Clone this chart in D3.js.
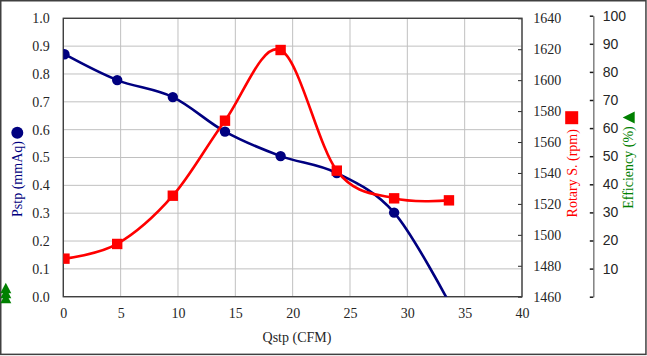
<!DOCTYPE html>
<html>
<head>
<meta charset="utf-8">
<script src="https://cdn.jsdelivr.net/npm/d3@7"></script>
<style>
  html, body { margin: 0; padding: 0; background: #fff; }
  svg { display: block; font-family: "Liberation Serif", "DejaVu Serif", serif; }
</style>
</head>
<body>
<svg id="chart" width="647" height="356"></svg>
<script>
// ---- data ----
const qstp = [0.1, 4.7, 9.55, 14.1, 18.95, 23.85, 28.85, 33.63];
const pstp = [0.871, 0.778, 0.717, 0.593, 0.505, 0.444, 0.302, -0.02];
const rotary = [1484.6, 1494.1, 1525.3, 1573.8, 1619.5, 1541.5, 1523.6, 1522.3];
const xTicks = [0, 5, 10, 15, 20, 25, 30, 35, 40];
const pTicks = [0, 0.1, 0.2, 0.3, 0.4, 0.5, 0.6, 0.7, 0.8, 0.9, 1.0];
const rTicks = [1460, 1480, 1500, 1520, 1540, 1560, 1580, 1600, 1620, 1640];
const eTicks = [0, 10, 20, 30, 40, 50, 60, 70, 80, 90, 100];
const labels = { x: "Qstp (CFM)", p: "Pstp (mmAq)", r: "Rotary S. (rpm)", e: "Efficiency (%)" };

// ---- layout ----
const L = 63.3, R = 522, T = 18.3, B = 296.7;
const svg = d3.select("#chart");
const x = d3.scaleLinear().domain([0, 40]).range([L, R]);
const yP = d3.scaleLinear().domain([0, 1]).range([B, T]);
const yR = d3.scaleLinear().domain([1460, 1640]).range([B, T]);
const yE = d3.scaleLinear().domain([0, 100]).range([B, 15.7]);

const NAVY = "#000080", RED = "#ff0000", GREEN = "#008000";
const FS = "14px";

// outer border
svg.append("rect").attr("x", 0.75).attr("y", 0.75).attr("width", 645.2).attr("height", 353.6)
  .attr("fill", "none").attr("stroke", "#404040").attr("stroke-width", 1.5);

// gridlines
const grid = svg.append("g").attr("stroke", "#c0c0c0").attr("stroke-width", 1);
grid.selectAll("line.v").data(xTicks).join("line")
  .attr("x1", d => x(d)).attr("x2", d => x(d)).attr("y1", T).attr("y2", B);
grid.selectAll("line.h").data(pTicks).join("line")
  .attr("x1", L).attr("x2", R).attr("y1", d => yP(d)).attr("y2", d => yP(d));

// axes
function styleAxis(g) {
  g.select(".domain").remove();
  g.selectAll("text").attr("font-size", FS).attr("fill", "#262626")
    .attr("font-family", "Liberation Serif, serif");
  g.selectAll(".tick line").attr("stroke", "#262626");
}
svg.append("g").attr("transform", `translate(${L},0)`)
  .call(d3.axisLeft(yP).tickValues(pTicks).tickFormat(d3.format(".1f")).tickSize(0).tickPadding(13.5))
  .call(styleAxis);
svg.append("g").attr("transform", `translate(0,${B})`)
  .call(d3.axisBottom(x).tickValues(xTicks).tickFormat(d3.format("d")).tickSize(0).tickPadding(11))
  .call(styleAxis);
svg.append("g").attr("transform", `translate(${R},0)`)
  .call(d3.axisRight(yR).tickValues(rTicks).tickFormat(d3.format("d")).tickSizeInner(-4).tickSizeOuter(0).tickPadding(11.3))
  .call(styleAxis);

// efficiency axis
const eAx = svg.append("g").attr("transform", "translate(593.3,0)")
  .call(d3.axisRight(yE).tickValues(eTicks).tickFormat(d => d === 0 ? "" : d).tickSizeInner(-3.5).tickSizeOuter(0).tickPadding(9.4));
eAx.select(".domain").attr("stroke", "#808080").attr("stroke-width", 1.5);
eAx.selectAll("text").attr("font-size", FS).attr("fill", "#262626");
eAx.selectAll(".tick line").attr("stroke", "#1a1a1a").attr("stroke-width", 1.5);

// plot frame
svg.append("rect").attr("x", L).attr("y", T).attr("width", R - L).attr("height", B - T)
  .attr("fill", "none").attr("stroke", "#404040").attr("stroke-width", 1.4);

// clip
svg.append("clipPath").attr("id", "plotclip").append("rect")
  .attr("x", L).attr("y", T - 8).attr("width", R - L + 8).attr("height", B - T + 8);
const plot = svg.append("g").attr("clip-path", "url(#plotclip)");

const curve = d3.curveCardinal.tension(0);
const pData = qstp.map((q, i) => ({ q, v: pstp[i] }));
const rData = qstp.map((q, i) => ({ q, v: rotary[i] }));

plot.append("path").datum(pData)
  .attr("d", d3.line().x(d => x(d.q)).y(d => yP(d.v)).curve(curve))
  .attr("fill", "none").attr("stroke", NAVY).attr("stroke-width", 2.6);
svg.append("clipPath").attr("id", "markclip").append("rect")
  .attr("x", 0).attr("y", 0).attr("width", 647).attr("height", B + 0.5);
plot.append("g").attr("clip-path", "url(#markclip)")
  .selectAll("circle").data(pData.filter(d => d.v >= 0)).join("circle")
  .attr("cx", d => x(d.q)).attr("cy", d => yP(d.v)).attr("r", 5.2).attr("fill", NAVY);

plot.append("path").datum(rData)
  .attr("d", d3.line().x(d => x(d.q)).y(d => yR(d.v)).curve(curve))
  .attr("fill", "none").attr("stroke", RED).attr("stroke-width", 2.6);
plot.append("g").selectAll("rect").data(rData).join("rect")
  .attr("x", d => x(d.q) - 5.2).attr("y", d => yR(d.v) - 5.2)
  .attr("width", 10.4).attr("height", 10.4).attr("fill", RED);

// axis titles
svg.append("text").attr("x", 297).attr("y", 337).attr("text-anchor", "middle")
  .attr("dominant-baseline", "central").attr("font-size", FS).attr("fill", "#262626").text(labels.x);

svg.append("text").attr("transform", "translate(17.5,179) rotate(-90)")
  .attr("text-anchor", "middle").attr("dominant-baseline", "central")
  .attr("font-size", FS).attr("fill", NAVY).text(labels.p);
svg.append("circle").attr("cx", 17.3).attr("cy", 132.7).attr("r", 6).attr("fill", NAVY);

svg.append("text").attr("transform", "translate(572,173.3) rotate(-90)")
  .attr("text-anchor", "middle").attr("dominant-baseline", "central")
  .attr("font-size", FS).attr("fill", RED).text(labels.r);
svg.append("rect").attr("x", 565.2).attr("y", 111.2).attr("width", 13).attr("height", 13).attr("fill", RED);

svg.append("text").attr("transform", "translate(628.7,167.5) rotate(-90)")
  .attr("text-anchor", "middle").attr("dominant-baseline", "central")
  .attr("font-size", FS).attr("fill", GREEN).text(labels.e);
svg.append("path").attr("d", "M622.7,117.5 L634.7,111.5 L634.7,123.5 Z").attr("fill", GREEN);

// stray efficiency markers at the lower left
const stray = [0, 1, 2];
svg.append("g").selectAll("path").data(stray).join("path")
  .attr("d", i => { const top = 282.7 + i * 5; return `M5.8,${top} L11.3,${top + 10.5} L0.3,${top + 10.5} Z`; })
  .attr("fill", GREEN);
</script>
</body>
</html>
